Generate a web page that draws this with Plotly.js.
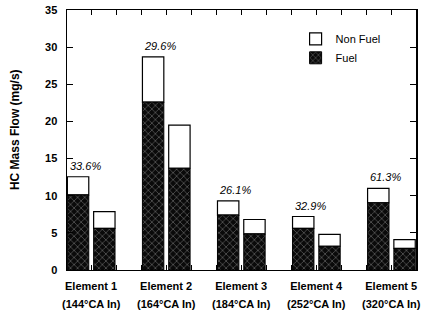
<!DOCTYPE html>
<html><head><meta charset="utf-8">
<script src="https://cdn.plot.ly/plotly-3.0.1.min.js"></script>
<style>html,body{margin:0;padding:0;background:#fff}#c{width:425px;height:320px}</style>
</head><body><div id="c"></div>
<script>
const elements = ["Element 1","Element 2","Element 3","Element 4","Element 5"];
const angles = ["(144°CA In)","(164°CA In)","(184°CA In)","(252°CA In)","(320°CA In)"];
const fuelA = [10.1, 22.6, 7.4, 5.6, 9.05];
const totalA = [12.55, 28.7, 9.3, 7.2, 11.0];
const fuelB = [5.6, 13.7, 4.85, 3.2, 2.9];
const totalB = [7.85, 19.5, 6.8, 4.8, 4.1];
const pctLabels = ["33.6%","29.6%","26.1%","32.9%","61.3%"];
const yTitle = "HC Mass Flow (mg/s)";

const xs = elements.map((_, i) => i);
const nonA = totalA.map((t, i) => +(t - fuelA[i]).toFixed(2));
const nonB = totalB.map((t, i) => +(t - fuelB[i]).toFixed(2));

// ticks every third of a category, labels only at the category centres
const tickvals = [], ticktext = [];
xs.forEach((v, i) => {
  tickvals.push(v - 1/3, v, v + 1/3);
  ticktext.push('', elements[i], '');
});

const FONT = 'Liberation Sans, Arial, Helvetica';
const fuelMarker = {color: '#0a0a0a', line: {color: '#000', width: 1},
  pattern: {shape: 'x', fgcolor: '#8a8a8a', bgcolor: '#0a0a0a', size: 5, solidity: 0.18}};
const nonMarker = {color: '#fff', line: {color: '#000', width: 1.2}};
const wA = 0.285, oA = -0.315, oB = 0.035;

const traces = [
  {type: 'bar', x: xs, y: nonA, base: fuelA, offset: oA, width: wA, marker: nonMarker, name: 'Non Fuel', legendgroup: 'n', showlegend: true},
  {type: 'bar', x: xs, y: fuelA, offset: oA, width: wA, marker: fuelMarker, name: 'Fuel', legendgroup: 'f', showlegend: true},
  {type: 'bar', x: xs, y: nonB, base: fuelB, offset: oB, width: wA, marker: nonMarker, name: 'Non Fuel', legendgroup: 'n', showlegend: false},
  {type: 'bar', x: xs, y: fuelB, offset: oB, width: wA, marker: fuelMarker, name: 'Fuel', legendgroup: 'f', showlegend: false}
];

const annotations = [];
pctLabels.forEach((t, i) => annotations.push({
  x: i + oA + wA / 2, y: totalA[i], xref: 'x', yref: 'y', text: t, showarrow: false,
  yanchor: 'bottom', xshift: 7, yshift: 3,
  font: {family: FONT, size: 11, color: '#000', style: 'italic'}
}));
angles.forEach((t, i) => annotations.push({
  x: i, y: 0, xref: 'x', yref: 'paper', text: t, showarrow: false,
  yanchor: 'middle', yshift: -34,
  font: {family: FONT, size: 11, color: '#000', weight: 'bold'}
}));
annotations.push({
  x: -0.149, y: 0.542, xref: 'paper', yref: 'paper', text: yTitle, showarrow: false,
  textangle: -90, xanchor: 'center', yanchor: 'middle',
  font: {family: FONT, size: 12, color: '#000', weight: 'bold'}
});

const layout = {
  width: 425, height: 320,
  margin: {l: 67, r: 9, t: 10, b: 50},
  paper_bgcolor: '#fff', plot_bgcolor: '#fff',
  barmode: 'overlay',
  font: {family: FONT, size: 11, color: '#000'},
  xaxis: {
    range: [-0.32, 4.33], tickmode: 'array', tickvals: tickvals, ticktext: ticktext,
    ticks: 'inside', ticklen: 5, tickcolor: '#000', showline: true, linecolor: '#000', linewidth: 1,
    mirror: 'ticks', showgrid: false, zeroline: false, ticklabelstandoff: 6,
    tickfont: {family: FONT, size: 11, weight: 'bold'}
  },
  yaxis: {
    range: [0, 35], dtick: 5, ticks: 'inside', ticklen: 6, tickcolor: '#000',
    showline: true, linecolor: '#000', linewidth: 1.5, mirror: 'ticks', showgrid: false, zeroline: false,
    ticklabelstandoff: 6,
    tickfont: {family: FONT, size: 11, weight: 'bold'}
  },
  legend: {x: 0.655, y: 0.945, xanchor: 'left', yanchor: 'top', bgcolor: 'rgba(0,0,0,0)',
    font: {family: FONT, size: 11}, traceorder: 'normal', tracegroupgap: 0, itemwidth: 30},
  annotations: annotations
};
Plotly.newPlot('c', traces, layout, {displayModeBar: false, staticPlot: true});
</script></body></html>
